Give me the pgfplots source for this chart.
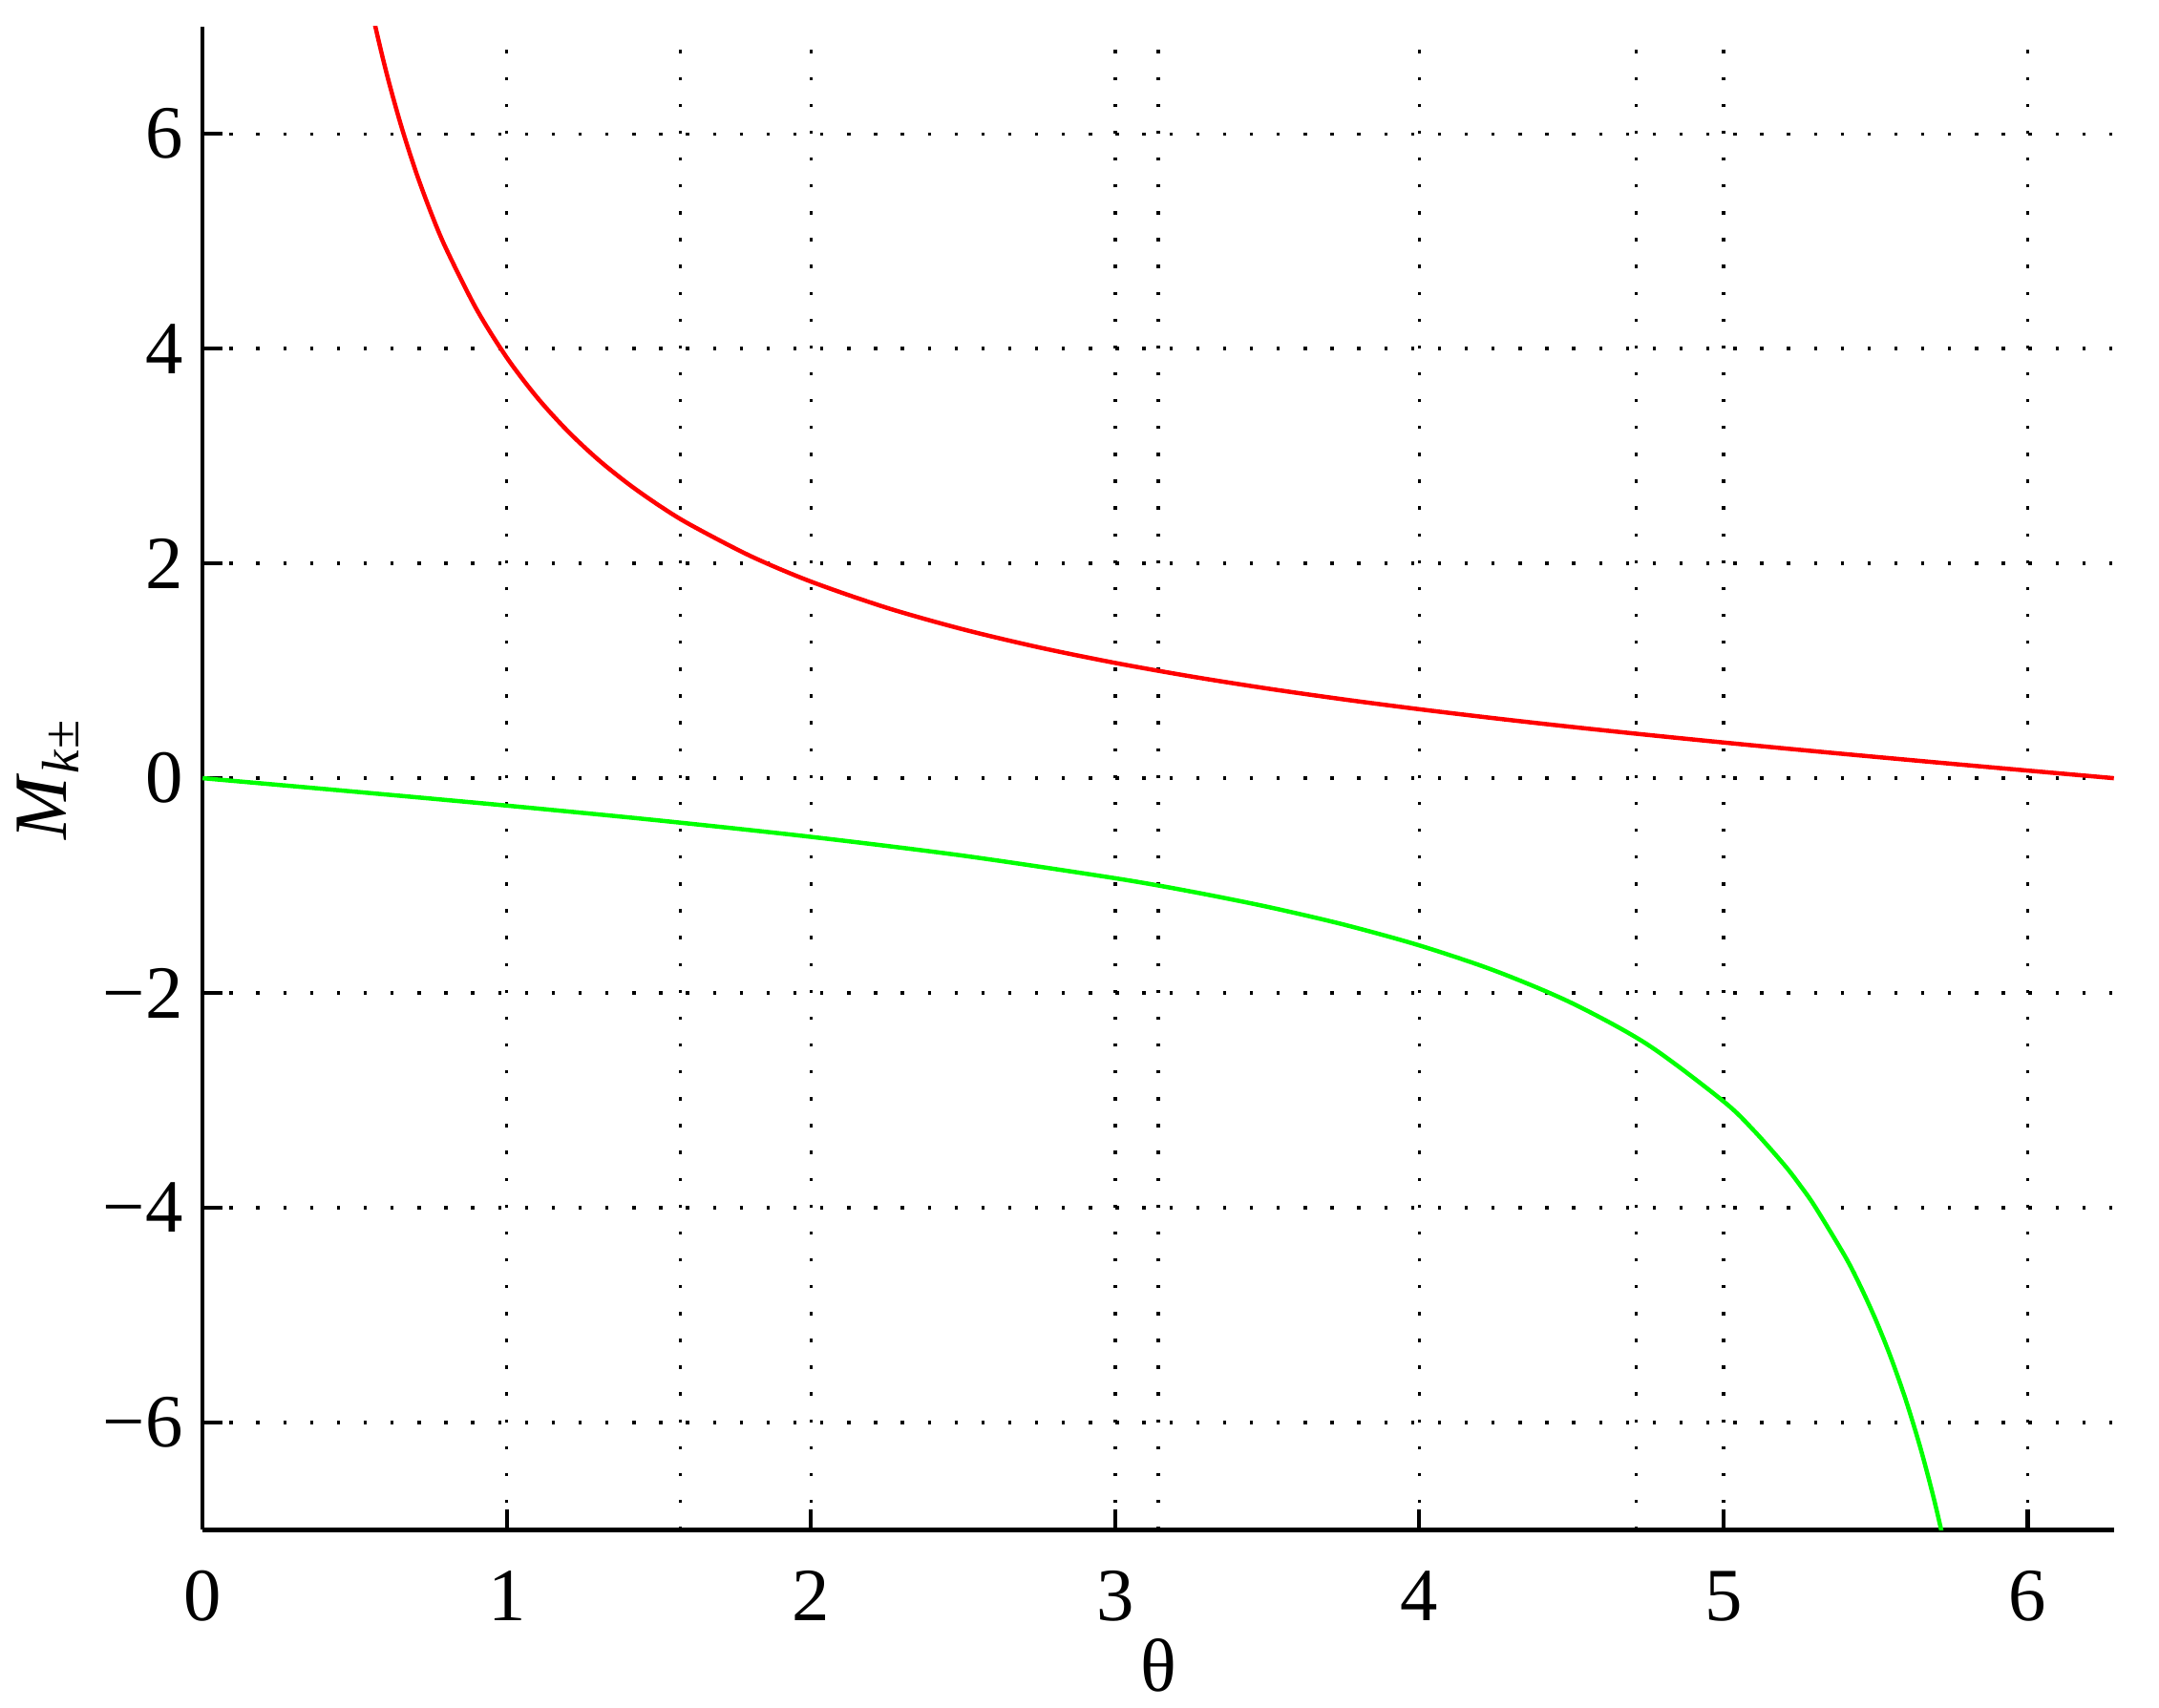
\documentclass[border=0pt]{standalone}
\usepackage{fontspec}
\setmainfont{Liberation Serif}
\usepackage{pgfplots}
\pgfplotsset{compat=1.18}

\begin{document}
\begin{tikzpicture}
  \begin{axis}[
      scale only axis,
      width=266.9pt, height=210pt,
      xmin=0, xmax=6.2832, ymin=-7, ymax=7,
      axis x line*=bottom, axis y line*=left,
      axis line style={line width=0.55pt, -},
      xtick={0,1,2,3,4,5,6},
      xticklabels={0,1,2,3,4,5,6},
      ytick={-6,-4,-2,0,2,4,6},
      yticklabels={−6,−4,−2,0,2,4,6},
      tick align=inside,
      major tick length=2.8pt,
      tick style={line width=0.55pt, black},
      tick label style={font=\fontsize{10.5}{12}\selectfont},
      xticklabel style={yshift=-2.2pt},
      yticklabel style={xshift=0.8pt},
      grid=major,
      major grid style={line width=0.45pt, black, dash pattern=on 0.45pt off 3.3pt},
      extra x ticks={1.5708,3.1416,4.7124},
      extra x tick labels={},
      extra x tick style={grid=major, major tick length=0pt},
      xlabel={θ},
      label style={font=\fontsize{10.5}{12}\selectfont},
      xlabel style={at={(axis description cs:0.5,0)}, anchor=center, yshift=-18.9pt},
      clip=true,
    ]
    % upper branch
    \addplot[red, line width=0.6pt, smooth] coordinates {
      (0.5,7.958) (0.55,7.2271) (0.6,6.6166) (0.65,6.0998) (0.7,5.656) (0.75,5.2706)
      (0.8,4.933) (0.9,4.369) (1.0,3.916) (1.1,3.544) (1.2,3.2327) (1.3,2.9671)
      (1.4,2.7395) (1.5,2.5405) (1.6,2.3652) (1.8,2.0702) (2.0,1.8305) (2.25,1.586)
      (2.5,1.386) (2.75,1.2178) (3.0,1.0734) (3.25,0.9472) (3.5,0.8351) (3.75,0.7342)
      (4.0,0.6421) (4.25,0.5571) (4.5,0.4779) (4.75,0.4033) (5.0,0.3323) (5.25,0.2642)
      (5.5,0.1983) (5.75,0.1341) (6.0,0.0709) (6.2832,0.0)
    };
    % lower branch
    \addplot[green, line width=0.6pt, smooth] coordinates {
      (0,0) (0.5,-0.1257) (1.0,-0.2553) (1.5,-0.3936) (2.0,-0.5463) (2.5,-0.7215)
      (3.0,-0.9316) (3.25,-1.0557) (3.5,-1.1974) (3.75,-1.3621) (4.0,-1.5574)
      (4.25,-1.7949) (4.5,-2.0926) (4.75,-2.4799) (5.0,-3.0096) (5.1,-3.2824)
      (5.2,-3.6021) (5.25,-3.785) (5.3,-3.9865) (5.4,-4.4552) (5.45,-4.7313)
      (5.5,-5.0419) (5.55,-5.3943) (5.6,-5.7979) (5.65,-6.2645) (5.7,-6.8101)
      (5.75,-7.4577) (5.8,-8.2378)
    };
  \end{axis}
  \node[rotate=90, anchor=center, font=\fontsize{10.5}{12}\selectfont]
    at ([xshift=-21.6pt]current axis.west) {\textit{M}\textsubscript{\textit{k}±}};
  \pgfresetboundingbox
  \path ([shift={(-28.3pt,-24.8pt)}]current axis.south west)
        rectangle ([shift={(6.3pt,3.7pt)}]current axis.north east);
\end{tikzpicture}
\end{document}
